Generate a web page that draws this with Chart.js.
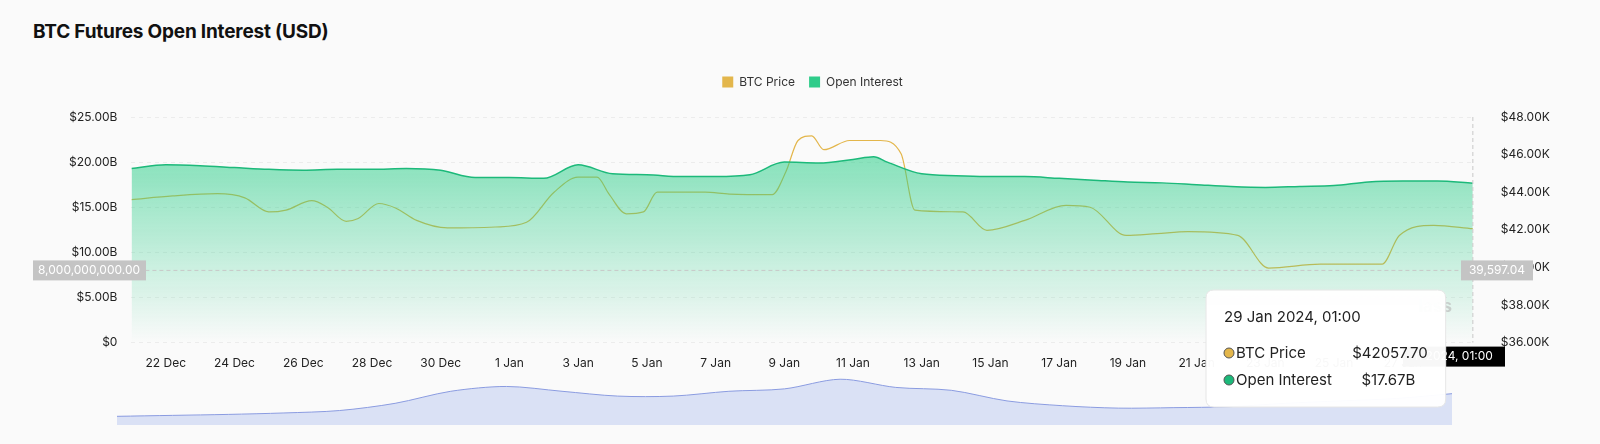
<!DOCTYPE html>
<html><head><meta charset="utf-8">
<script src="https://cdn.jsdelivr.net/npm/chart.js@4"></script>
<style>
html,body{margin:0;padding:0;background:#fafafa;font-family:Inter,"Noto Sans",sans-serif;}
#wrap{position:relative;width:1600px;height:444px;}
#title{position:absolute;left:33px;top:20px;font-size:19px;font-weight:700;color:#111;letter-spacing:-0.2px}
#main{position:absolute;left:0;top:62px;}
#nav{position:absolute;left:117px;top:372px;}
</style></head><body>
<div id="wrap">
<div id="title">BTC Futures Open Interest (USD)</div>
<canvas id="nav" width="1335" height="53"></canvas>
<canvas id="main" width="1600" height="350"></canvas>
</div>
<script>
// day 0 = 21 Dec 2023 00:00
const tickDays = [1,3,5,7,9,11,13,15,17,19,21,23,25,27,29,31,33,35,37];
const tickLabels = ["22 Dec","24 Dec","26 Dec","28 Dec","30 Dec","1 Jan","3 Jan","5 Jan","7 Jan","9 Jan","11 Jan","13 Jan","15 Jan","17 Jan","19 Jan","21 Jan","23 Jan","25 Jan","27 Jan"];
const oiDays = [0,1,2,3,4,5,6,7,8,9,10,11,12,13,14,15,16,17,18,19,20,21,21.6,22,23,24,25,26,27,28,29,30,31,32,33,34,35,36,37,38,39.04];
const oiValues = [19.3,19.7,19.6,19.4,19.2,19.1,19.2,19.2,19.3,19.1,18.3,18.3,18.2,19.7,18.7,18.6,18.4,18.4,18.6,20.0,19.9,20.3,20.6,20.0,18.7,18.5,18.4,18.4,18.2,18.0,17.8,17.7,17.5,17.3,17.2,17.3,17.4,17.8,17.9,17.9,17.67];
const priceDays = [0,1.2,2.5,3.3,4.0,4.5,5.25,5.7,6.25,6.6,7.2,7.7,8.3,9.2,10.6,11.5,12.3,13.0,13.55,13.9,14.4,14.9,15.3,16.7,17.4,18.65,19.05,19.4,19.8,20.15,20.9,21.8,22.4,22.8,24.2,24.9,26.0,27.2,27.9,28.95,29.85,30.75,32.2,33.1,34.6,36.4,36.9,37.9,39.04];
const priceValues = [43.6,43.8,43.92,43.7,42.95,43.05,43.55,43.2,42.45,42.6,43.4,43.15,42.5,42.1,42.15,42.4,44.0,44.8,44.8,43.9,42.85,42.95,44.0,44.0,43.9,43.87,45.1,46.75,47.0,46.26,46.75,46.75,46.04,43.05,42.95,41.97,42.5,43.3,43.2,41.7,41.8,41.9,41.7,39.96,40.17,40.17,41.7,42.24,42.0577];
const navValues = [0.18,0.2,0.22,0.25,0.3,0.45,0.7,0.8,0.7,0.6,0.6,0.7,0.75,0.95,0.78,0.72,0.5,0.4,0.35,0.36,0.38,0.45,0.5,0.55,0.65];
const oiTicks = [0,5,10,15,20,25];
const priceTicks = [36,38,40,42,44,46,48];

const oi = oiDays.map((d,i)=>({x:d,y:oiValues[i]}));
const price = priceDays.map((d,i)=>({x:d,y:priceValues[i]}));

Chart.Tooltip.positioners.fixed = function(){ return {x:1214, y:226}; };

const legendGap = {
  id:'legendGap',
  beforeInit(chart){
    const f=chart.legend.fit;
    chart.legend.fit=function(){ f.bind(chart.legend)(); this.height+=19; };
  }
};

const overlay = {
  id:'overlay',
  afterDatasetsDraw(c){
    const ctx=c.ctx, a=c.chartArea, yl=c.scales.y, xs=c.scales.x;
    const y=yl.getPixelForValue(8), x=xs.getPixelForValue(39.04);
    ctx.save();
    ctx.setLineDash([4,3]); ctx.strokeStyle='#c8c8c8'; ctx.lineWidth=1;
    ctx.beginPath(); ctx.moveTo(a.left,y); ctx.lineTo(a.right,y); ctx.stroke();
    ctx.beginPath(); ctx.moveTo(x,a.top); ctx.lineTo(x,a.bottom); ctx.stroke();
    ctx.setLineDash([]);
    ctx.font='12px Inter'; ctx.textBaseline='middle';
    ctx.fillStyle='#c4c4c4'; ctx.fillRect(33,y-10,113,20);
    ctx.fillStyle='#fff'; ctx.textAlign='center'; ctx.fillText('8,000,000,000.00',89,y);
    ctx.fillStyle='#c4c4c4'; ctx.fillRect(1461,y-10,72,20);
    ctx.fillStyle='#fff'; ctx.fillText('39,597.04',1497,y);
    ctx.fillStyle='#000'; ctx.fillRect(1403,a.bottom+4,102,20);
    ctx.fillStyle='#fff'; ctx.fillText('n 2024, 01:00',1454,a.bottom+14);
    ctx.fillStyle='rgba(180,180,180,0.6)'; ctx.font='bold 17px Inter'; ctx.textAlign='right';
    ctx.fillText('lass',1452,245);
    ctx.restore();
  }
};

const c = new Chart(document.getElementById('main'),{
  type:'line',
  data:{datasets:[
    {label:'BTC Price',data:price,yAxisID:'y1',borderColor:'#e3b64b',backgroundColor:'#e3b64b',borderWidth:1.2,pointRadius:0,tension:0.4,cubicInterpolationMode:'monotone',order:2,fill:false},
    {label:'Open Interest',data:oi,yAxisID:'y',borderColor:'#1cb97a',backgroundColor:(ctx)=>{
        const ch=ctx.chart, a=ch.chartArea; if(!a) return 'rgba(30,200,130,0.5)';
        const g=ch.ctx.createLinearGradient(0,a.top+40,0,a.bottom);
        g.addColorStop(0,'rgba(40,205,135,0.55)'); g.addColorStop(1,'rgba(40,205,135,0.0)'); return g;},
      borderWidth:1.5,pointRadius:0,tension:0.4,cubicInterpolationMode:'monotone',fill:'origin',order:1}
  ]},
  options:{
    responsive:false,animation:false,
    layout:{padding:{left:55,right:30,top:0,bottom:35}},
    plugins:{
      legend:{position:'top',labels:{boxWidth:11,boxHeight:11,font:{size:12,family:'Inter'},color:'#333',padding:14,
        generateLabels:(ch)=>ch.data.datasets.map((d,i)=>({text:d.label,fillStyle:d.borderColor==='#1cb97a'?'#2fcc8a':d.borderColor,strokeStyle:'rgba(0,0,0,0)',lineWidth:0,datasetIndex:i,fontColor:'#333'}))}},
      tooltip:{enabled:true,position:'fixed',xAlign:'left',yAlign:'top',backgroundColor:'rgba(255,255,255,0.97)',titleColor:'#222',bodyColor:'#222',
        borderColor:'#e6e6e6',borderWidth:1,padding:18,cornerRadius:8,caretSize:0,titleFont:{size:15,weight:'normal',family:'Inter'},bodyFont:{size:15,family:'Inter'},titleMarginBottom:18,bodySpacing:9,
        usePointStyle:true,boxWidth:10,boxHeight:10,
        callbacks:{title:()=> '29 Jan 2024, 01:00',
          label:(t)=> t.dataset.label==='BTC Price' ? 'BTC Price           $42057.70' : 'Open Interest       $17.67B',
          labelPointStyle:()=>({pointStyle:'circle',rotation:0}),
          labelColor:(t)=>({borderColor:'#555',backgroundColor:t.dataset.borderColor,borderWidth:1})}
      }
    },
    scales:{
      x:{type:'linear',min:0,max:39.04,grid:{display:false},border:{display:false},
        afterBuildTicks:(s)=>{s.ticks=tickDays.map(v=>({value:v}));},
        ticks:{autoSkip:false,maxRotation:0,color:'#222',font:{size:12,family:'Inter'},padding:6,callback:(v)=>tickLabels[tickDays.indexOf(v)]}},
      y:{position:'left',min:0,max:25,grid:{color:'#ececec',tickLength:0},border:{display:false,dash:[4,4]},
        afterBuildTicks:(s)=>{s.ticks=oiTicks.map(v=>({value:v}));},
        ticks:{color:'#222',font:{size:12,family:'Inter'},padding:14,callback:(v)=> v===0?'$0':'$'+v.toFixed(2)+'B'}},
      y1:{position:'right',min:36,max:48,grid:{display:false},border:{display:false},
        afterBuildTicks:(s)=>{s.ticks=priceTicks.map(v=>({value:v}));},
        ticks:{color:'#222',font:{size:12,family:'Inter'},padding:20,callback:(v)=>'$'+v.toFixed(2)+'K'}}
    }
  },
  plugins:[overlay,legendGap]
});
c.tooltip.setActiveElements([{datasetIndex:0,index:priceValues.length-1},{datasetIndex:1,index:oiValues.length-1}],{x:1443,y:220});
c.update();

new Chart(document.getElementById('nav'),{
  type:'line',
  data:{labels:navValues.map((_,i)=>i),datasets:[{data:navValues,borderColor:'#8a9be0',borderWidth:1,backgroundColor:'rgba(180,195,240,0.45)',fill:'origin',pointRadius:0,tension:0.3}]},
  options:{responsive:false,animation:false,plugins:{legend:{display:false},tooltip:{enabled:false}},
    scales:{x:{display:false},y:{display:false,min:0,max:1.1}},layout:{padding:0}}
});
</script>
</body></html>
